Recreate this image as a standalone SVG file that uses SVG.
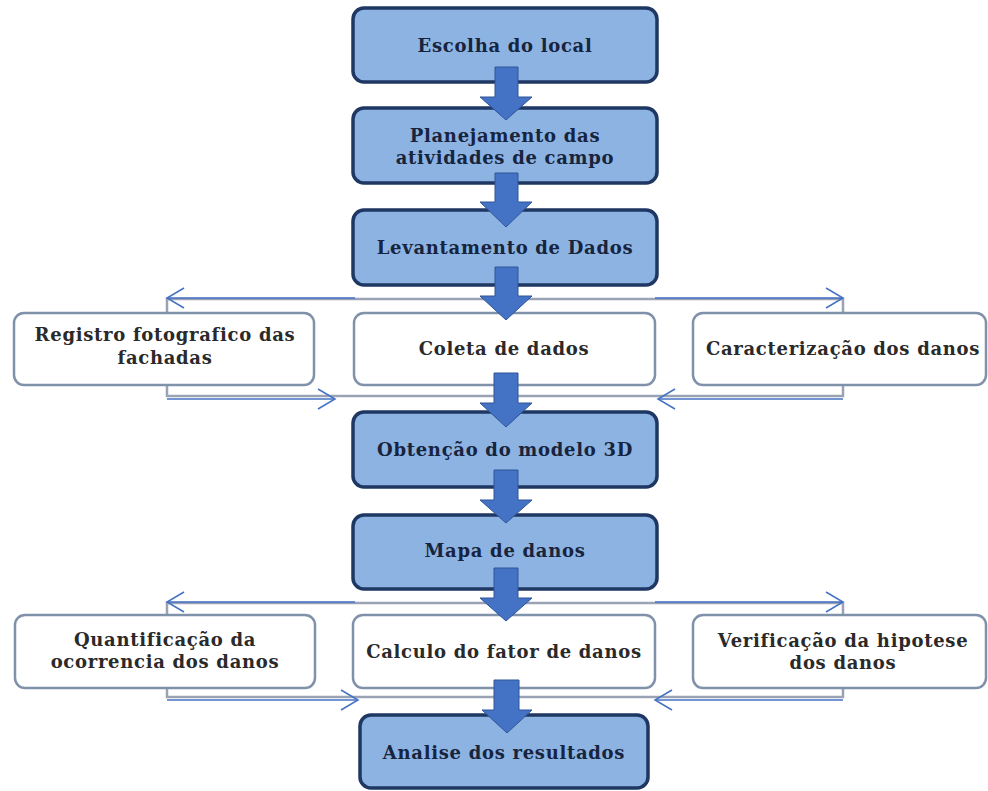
<svg xmlns="http://www.w3.org/2000/svg" width="988" height="791" viewBox="0 0 988 791">
<style>
.main rect{fill:#8DB3E2;stroke:#1F3763;stroke-width:3.5}
.side rect{fill:#FFFFFF;stroke:#8091AA;stroke-width:2.5}
.main text{font-family:"DejaVu Serif","Liberation Serif",serif;font-weight:bold;font-size:18px;letter-spacing:0.7px;fill:#17243D;text-anchor:middle}
.side text{font-family:"DejaVu Serif","Liberation Serif",serif;font-weight:bold;font-size:18px;letter-spacing:0.7px;fill:#2A2A2A;text-anchor:middle}
.blk{fill:#4472C4;stroke:#2F5597;stroke-width:1}
.ln{fill:none;stroke:#4472C4;stroke-width:1.5}
.sh{fill:none;stroke:#9AA3B5;stroke-width:2.5}
</style>
<defs>
<marker id="chev" markerUnits="userSpaceOnUse" viewBox="-19 -12 21 24" refX="0" refY="0" markerWidth="21" markerHeight="24" orient="auto">
<path d="M-17,-10 L0,0 L-17,10" fill="none" stroke="#4472C4" stroke-width="1.5"/>
</marker>
</defs>
<rect width="988" height="791" fill="#FFFFFF"/>

<g id="connectors">
<path class="sh" d="M167,312 V299 H843 V312"/>
<path class="ln" d="M355,298 H167" marker-end="url(#chev)"/>
<path class="ln" d="M655,298 H843" marker-end="url(#chev)"/>
<path class="sh" d="M167,385 V396 H843 V385"/>
<path class="ln" d="M167,399 H335" marker-end="url(#chev)"/>
<path class="ln" d="M843,399 H658" marker-end="url(#chev)"/>
<path class="sh" d="M167,615 V603 H843 V615"/>
<path class="ln" d="M355,602 H167" marker-end="url(#chev)"/>
<path class="ln" d="M655,602 H843" marker-end="url(#chev)"/>
<path class="sh" d="M167,688 V697 H843 V688"/>
<path class="ln" d="M167,700 H358" marker-end="url(#chev)"/>
<path class="ln" d="M843,700 H655" marker-end="url(#chev)"/>
</g>

<g id="n1" class="main"><rect x="353" y="8" width="304" height="74" rx="11"/><text x="505" y="52">Escolha do local</text></g>
<g id="n2" class="main"><rect x="353" y="108" width="304" height="75" rx="11"/><text x="505" y="142">Planejamento das</text><text x="505" y="164">atividades de campo</text></g>
<g id="n3" class="main"><rect x="353" y="210" width="304" height="75" rx="11"/><text x="505" y="254">Levantamento de Dados</text></g>
<g id="n4" class="side"><rect x="14" y="313" width="300" height="72" rx="10"/><text x="165" y="341">Registro fotografico das</text><text x="165" y="364">fachadas</text></g>
<g id="n5" class="side"><rect x="354" y="313" width="301" height="72" rx="10"/><text x="504" y="355">Coleta de dados</text></g>
<g id="n6" class="side"><rect x="693" y="313" width="293" height="72" rx="10"/><text x="843" y="355">Caracterização dos danos</text></g>
<g id="n7" class="main"><rect x="353" y="412" width="304" height="75" rx="11"/><text x="505" y="456">Obtenção do modelo 3D</text></g>
<g id="n8" class="main"><rect x="353" y="515" width="304" height="74" rx="11"/><text x="505" y="557">Mapa de danos</text></g>
<g id="n9" class="side"><rect x="15" y="615" width="300" height="73" rx="10"/><text x="165" y="646">Quantificação da</text><text x="165" y="668">ocorrencia dos danos</text></g>
<g id="n10" class="side"><rect x="353" y="615" width="302" height="73" rx="10"/><text x="504" y="658">Calculo do fator de danos</text></g>
<g id="n11" class="side"><rect x="693" y="615" width="293" height="73" rx="10"/><text x="843" y="647">Verificação da hipotese</text><text x="843" y="669">dos danos</text></g>
<g id="n12" class="main"><rect x="360" y="715" width="288" height="73" rx="11"/><text x="504" y="759">Analise dos resultados</text></g>

<g id="block-arrows">
<path class="blk" d="M495,67 H518 V97 H532 L506,120 L480,97 H495 Z"/>
<path class="blk" d="M495,173 H518 V202 H532 L506,227 L480,202 H495 Z"/>
<path class="blk" d="M495,267 H518 V296 H532 L506,320 L480,296 H495 Z"/>
<path class="blk" d="M494,373 H518 V403 H532 L506,427 L480,403 H494 Z"/>
<path class="blk" d="M494,470 H518 V500 H532 L506,523 L480,500 H494 Z"/>
<path class="blk" d="M494,568 H518 V598 H532 L506,621 L480,598 H494 Z"/>
<path class="blk" d="M494,680 H519 V710 H532 L507,733 L482,710 H494 Z"/>
</g>
</svg>
